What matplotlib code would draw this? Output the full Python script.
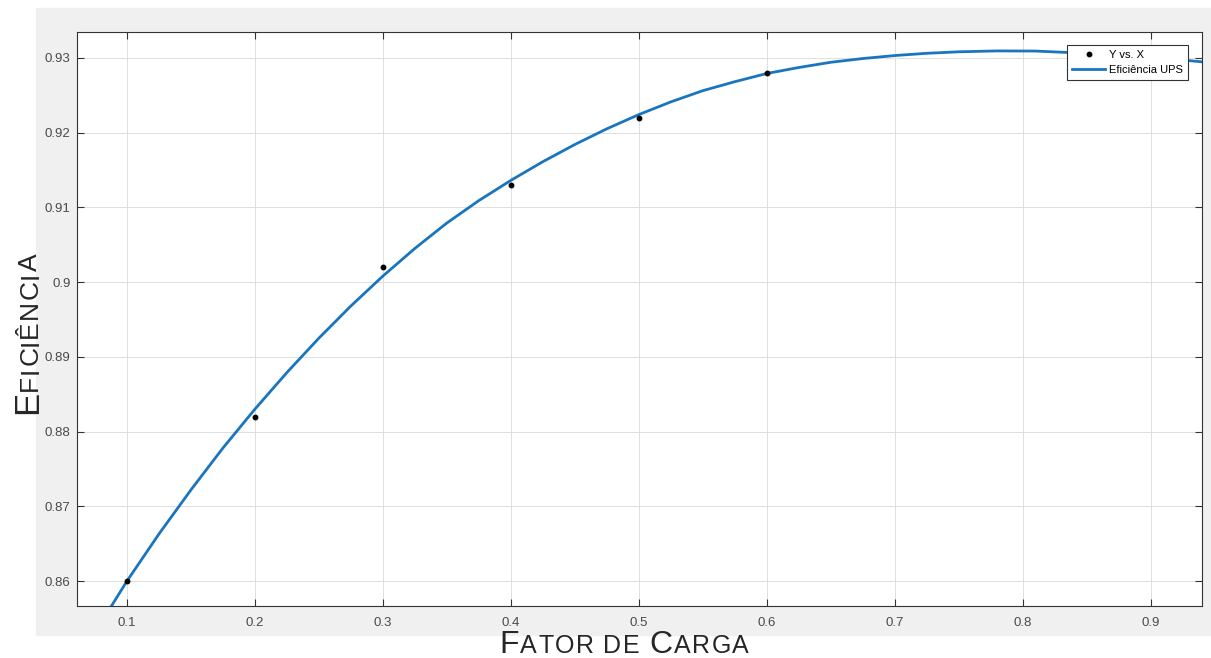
import matplotlib
matplotlib.use('Agg')
import matplotlib.pyplot as plt
from matplotlib.patches import Rectangle
from matplotlib.font_manager import FontProperties, findfont, get_font

# measured points
fator = [0.1, 0.2, 0.3, 0.4, 0.5, 0.6]
eficiencia = [0.860, 0.882, 0.902, 0.913, 0.922, 0.928]

# fitted curve
curva_x = [0.080, 0.100, 0.125, 0.150, 0.175, 0.200, 0.225, 0.250, 0.275, 0.300,
           0.325, 0.350, 0.375, 0.400, 0.425, 0.450, 0.475, 0.500, 0.525, 0.550,
           0.575, 0.600, 0.625, 0.650, 0.675, 0.700, 0.725, 0.750, 0.780, 0.810,
           0.850, 0.900, 0.950]
curva_y = [0.8545, 0.8600, 0.8663, 0.8722, 0.8778, 0.8830, 0.8879, 0.8925, 0.8968, 0.9008,
           0.9045, 0.9079, 0.9109, 0.9136, 0.9161, 0.9184, 0.9205, 0.9224, 0.9241, 0.9256,
           0.9268, 0.9279, 0.9287, 0.9294, 0.9299, 0.9303, 0.9306, 0.9308, 0.93092, 0.9309,
           0.9306, 0.9301, 0.9293]

xticks = [0.1, 0.2, 0.3, 0.4, 0.5, 0.6, 0.7, 0.8, 0.9]
xtick_labels = ['0.1', '0.2', '0.3', '0.4', '0.5', '0.6', '0.7', '0.8', '0.9']
yticks = [0.86, 0.87, 0.88, 0.89, 0.90, 0.91, 0.92, 0.93]
ytick_labels = ['0.86', '0.87', '0.88', '0.89', '0.9', '0.91', '0.92', '0.93']

FONT = 'Liberation Sans'
W, H = 1211, 658
fig = plt.figure(figsize=(W / 100, H / 100), dpi=100, facecolor='white')

# matlab-like grey figure panel, kept behind the axes
fig.patches.append(Rectangle((36 / W, 1 - 635 / H), 1 - 36 / W, (635 - 8) / H,
                             transform=fig.transFigure, color='#f0f0f0', zorder=-10))

ax = fig.add_axes([76.7 / W, 1 - 606 / H, (1201.7 - 76.7) / W, (606 - 32.3) / H])
ax.set_zorder(1)
ax.set_facecolor('white')

ax.plot(fator, eficiencia, 'o', color='black', ms=3.2, label='Y vs. X', zorder=3)
ax.plot(curva_x, curva_y, '-', color='#1a75bf', lw=2.0, label='Eficiência UPS', zorder=2,
        solid_joinstyle='round')

ax.set_xlim(0.0607, 0.9399)
ax.set_ylim(0.85666, 0.93341)
ax.set_xticks(xticks)
ax.set_xticklabels(xtick_labels, family=FONT, fontsize=9.5, color='#4a4a4a')
ax.set_yticks(yticks)
ax.set_yticklabels(ytick_labels, family=FONT, fontsize=9.5, color='#4a4a4a')
ax.tick_params(axis='both', direction='in', length=5, width=0.8, color='#333333',
               top=True, right=True)
ax.tick_params(axis='x', pad=8)
ax.tick_params(axis='y', pad=4.3)
ax.grid(True, color='#dedede', lw=0.7)
ax.set_axisbelow(True)
for sp in ax.spines.values():
    sp.set_color('#333333')
    sp.set_linewidth(0.8)

leg = ax.legend(loc='upper right', bbox_to_anchor=(1187.7 / W, 1 - 45 / H),
                bbox_transform=fig.transFigure, borderaxespad=0, fancybox=False,
                framealpha=1, edgecolor='#333333', numpoints=1, handlelength=3.0,
                handletextpad=0.3, borderpad=0.45, labelspacing=0.45,
                prop={'family': FONT, 'size': 8})
leg.get_frame().set_linewidth(0.8)


def small_caps(parts, x0, y0, big, small, track, vertical=False):
    # draw letter by letter so that big and small capitals share one baseline
    font = get_font(findfont(FontProperties(family=FONT)))
    pos = x0 if not vertical else y0
    for txt, is_big in parts:
        size = big if is_big else small
        font.set_size(size, 100)
        for ch in txt:
            adv = font.load_char(ord(ch)).linearHoriAdvance / 65536
            if vertical:
                fig.text(x0 / W, 1 - pos / H, ch, fontsize=size, family=FONT,
                         color='#262626', rotation=90, rotation_mode='anchor',
                         ha='left', va='baseline')
                pos -= adv + track
            else:
                fig.text(pos / W, 1 - y0 / H, ch, fontsize=size, family=FONT,
                         color='#262626', ha='left', va='baseline')
                pos += adv + track


small_caps([('F', True), ('ATOR DE ', False), ('C', True), ('ARGA', False)],
           499, 653.3, 23, 18, 1.4)
small_caps([('E', True), ('FICIÊNCIA', False)], 37.3, 414.5, 25, 19, 0.8, vertical=True)

fig.savefig('out.png', dpi=100, facecolor='white')
